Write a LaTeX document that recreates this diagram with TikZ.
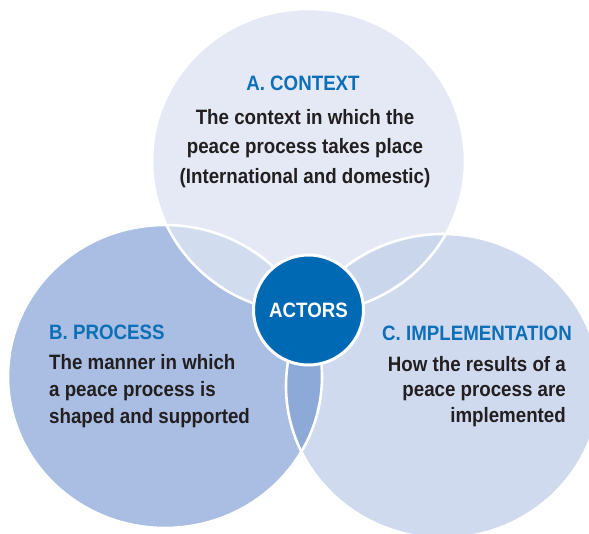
\documentclass[tikz,border=0pt]{standalone}
\usepackage{fontspec}
\setmainfont{Liberation Sans}[FakeStretch=0.9]

\definecolor{ctxfill}{HTML}{E4E9F5}
\definecolor{procfill}{HTML}{A9BEE2}
\definecolor{implfill}{HTML}{CFDAEE}
\definecolor{ctxprocfill}{HTML}{D1DCEF}
\definecolor{ctximplfill}{HTML}{C9D6EC}
\definecolor{procimplfill}{HTML}{8DA9D7}
\definecolor{actorblue}{HTML}{0069B4}
\definecolor{headblue}{HTML}{0C6FB8}
\definecolor{bodyink}{HTML}{231F20}

\begin{document}
\begin{tikzpicture}[x=1pt, y=-1pt,
  ctxsize/.style={x radius=156.5pt, y radius=152pt},
  procsize/.style={x radius=157pt, y radius=151.5pt},
  implsize/.style={x radius=157pt, y radius=152pt},
  rim/.style={draw=white, line width=2.6pt},
  heading/.style={inner sep=0pt, text=headblue,
    font=\bfseries\fontsize{20.8}{27}\selectfont},
  bodytext/.style={inner sep=0pt, text=bodyink,
    font=\bfseries\fontsize{20.8}{#1}\selectfont},
  bodytext/.default=27]
  \useasboundingbox (0,0) rectangle (589,533);

  % centres of the three sets
  \coordinate (ctx)  at (308.5,161);
  \coordinate (proc) at (165,376.5);
  \coordinate (impl) at (443,386);

  % the three sets
  \fill[ctxfill]  (ctx)  ellipse [ctxsize];
  \fill[procfill] (proc) ellipse [procsize];
  \fill[implfill] (impl) ellipse [implsize];

  % pairwise overlaps
  \begin{scope}
    \clip (ctx) ellipse [ctxsize];
    \fill[ctxprocfill] (proc) ellipse [procsize];
  \end{scope}
  \begin{scope}
    \clip (ctx) ellipse [ctxsize];
    \fill[ctximplfill] (impl) ellipse [implsize];
  \end{scope}
  \begin{scope}
    \clip (proc) ellipse [procsize];
    \fill[procimplfill] (impl) ellipse [implsize];
  \end{scope}

  % white rims of the sets
  \draw[rim] (ctx)  ellipse [ctxsize];
  \draw[rim] (proc) ellipse [procsize];
  \draw[rim] (impl) ellipse [implsize];

  % common core
  \node[circle, fill=actorblue, draw=white, line width=3pt,
        minimum size=110pt, inner sep=0pt, text=white,
        font=\bfseries\fontsize{20.8}{27}\selectfont]
    (actors) at (308.5,310) {ACTORS};

  % A. context
  \node[heading, anchor=base] (ctxhead) at (303,90) {A. CONTEXT};
  \node[bodytext=29.5, anchor=base] (ctxbody) at (305,124)
    {\begin{tabular}[t]{@{}c@{}}The context in which the\\
      peace process takes place\\(International and domestic)\end{tabular}};

  % B. process
  \node[heading, anchor=base west] (prochead) at (49,339) {B. PROCESS};
  \node[bodytext=27, anchor=base west] (procbody) at (49,369)
    {\begin{tabular}[t]{@{}l@{}}The manner in which\\
      a peace process is\\shaped and supported\end{tabular}};

  % C. implementation
  \node[heading, anchor=base east] (implhead) at (572,340) {C. IMPLEMENTATION};
  \node[bodytext=25.5, anchor=base east] (implbody) at (566,371)
    {\begin{tabular}[t]{@{}r@{}}How the results of a\\
      peace process are\\implemented\end{tabular}};
\end{tikzpicture}
\end{document}
